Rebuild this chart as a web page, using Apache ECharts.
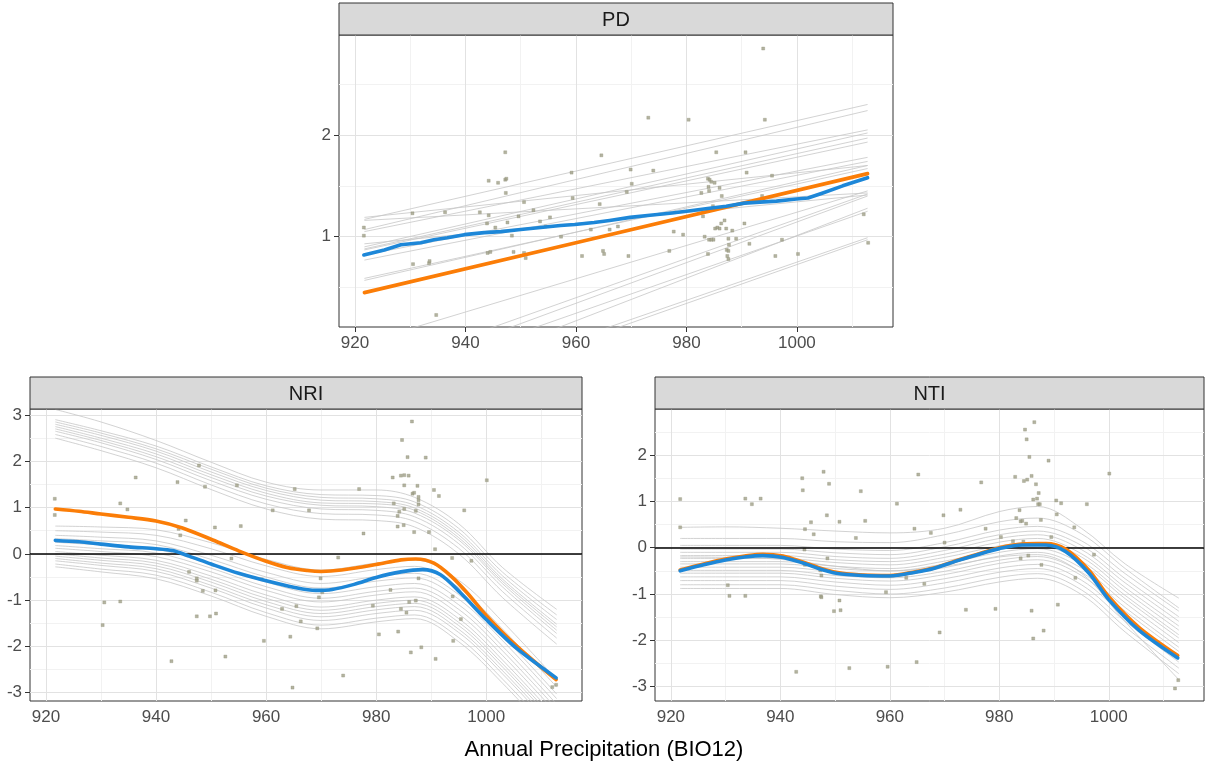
<!DOCTYPE html>
<html>
<head>
<meta charset="utf-8">
<script src="https://cdn.jsdelivr.net/npm/echarts/dist/echarts.min.js"></script>
<style>html,body{margin:0;padding:0;background:#fff}#chart{width:1207px;height:771px}</style>
</head>
<body>
<div id="chart"></div>
<script>
// ---------------- DATA ----------------
const panelNames = ['PD', 'NRI', 'NTI'];
const xTitle = 'Annual Precipitation (BIO12)';
const xMajor = [920, 940, 960, 980, 1000];
const xMinor = [930, 950, 970, 990, 1010];
const pdYMajor = [1, 2];
const pdYMinor = [0.5, 1.5, 2.5];
const nriYMajor = [-3, -2, -1, 0, 1, 2, 3];
const nriYMinor = [-2.5, -1.5, -0.5, 0.5, 1.5, 2.5];
const ntiYMajor = [-3, -2, -1, 0, 1, 2];
const ntiYMinor = [-2.5, -1.5, -0.5, 0.5, 1.5, 2.5];

// PD: observed points
const pdPoints = [[921.6,1.09],[921.6,1.01],[930.4,1.23],[930.5,0.73],[933.4,0.74],[933.5,0.76],[934.7,0.23],[936.3,1.24],[942.6,1.24],[944.2,1.55],[944.2,1.21],[943.9,1.13],[945.4,1.09],[945.9,1.53],[944.0,0.84],[944.5,0.85],[947.2,1.83],[947.2,1.56],[947.4,1.57],[947.3,1.43],[947.6,1.14],[948.4,1.01],[948.7,0.85],[949.6,1.20],[950.6,1.34],[950.6,0.84],[950.9,0.79],[952.3,1.26],[953.5,1.15],[954.5,1.10],[955.3,1.19],[957.3,1.00],[959.2,1.63],[959.4,1.38],[961.1,0.81],[962.7,1.07],[964.3,1.32],[964.6,1.80],[964.9,0.86],[965.1,0.83],[966.1,1.07],[967.6,1.10],[969.5,0.81],[969.2,1.44],[969.9,1.66],[970.1,1.52],[973.1,2.17],[974.0,1.65],[976.9,0.86],[977.7,1.05],[979.4,1.02],[980.4,2.15],[982.7,1.43],[983.0,1.20],[983.3,1.00],[983.9,0.83],[984.1,0.97],[984.5,0.97],[984.9,0.97],[983.9,1.57],[984.2,1.56],[984.5,1.54],[984.0,1.49],[984.1,1.45],[984.8,1.30],[985.0,1.27],[985.1,1.53],[985.4,1.83],[986.0,1.48],[985.2,1.08],[985.6,1.09],[986.0,1.08],[986.3,1.13],[986.4,1.40],[986.9,1.16],[987.2,1.08],[987.6,0.98],[987.7,0.92],[987.3,0.87],[987.6,0.86],[987.4,0.81],[987.6,0.78],[988.3,1.06],[989.0,0.98],[990.5,1.13],[990.7,1.83],[990.9,1.63],[991.4,0.93],[993.7,1.40],[993.9,2.85],[994.2,2.15],[995.5,1.60],[996.1,0.81],[997.3,0.97],[1000.2,0.83],[1012.1,1.22],[1012.9,0.94]];
// PD: straight group lines, value at x = 921.7 and at x = 1012.8
const pdLineX = [921.7, 1012.8];
const pdLineStart = [1.17, 1.07, 1.19, 1.16, 1.05, 0.90, 0.88, 0.87, 0.82, 0.77, 0.59, 0.57, -0.04, -0.34, -0.42, -0.63, -0.48, -0.72, -0.77, 0.93];
const pdLineEnd   = [2.30, 2.24, 1.70, 1.43, 2.05, 2.02, 1.97, 1.93, 1.78, 1.74, 1.67, 1.70, 1.45, 1.42, 1.40, 1.28, 1.25, 0.99, 0.97, 1.41];
const pdOrange = [[921.7,0.45],[960,0.94],[1012.8,1.62]];
const pdBlue = [[921.6,0.82],[925.3,0.87],[928.3,0.92],[931.9,0.94],[934.3,0.97],[936.7,0.99],[939.8,1.02],[943.4,1.04],[946.4,1.05],[950.0,1.07],[953.6,1.09],[957.2,1.11],[959.8,1.12],[963.3,1.14],[966.1,1.16],[969.8,1.19],[973.4,1.21],[977.0,1.23],[980.0,1.25],[984.2,1.28],[987.2,1.30],[990.5,1.33],[993.3,1.34],[996.3,1.35],[999.9,1.37],[1002.0,1.38],[1004.7,1.43],[1008.3,1.50],[1012.8,1.58]];

// x positions shared by the curved group lines of NRI and NTI
const curveX = [921.7, 930, 940, 950, 960, 970, 980, 987, 995, 1003, 1012.8];

// NRI
const nriPoints = [[921.6,1.19],[921.6,0.84],[930.6,-1.05],[930.3,-1.54],[933.5,1.09],[933.5,-1.03],[934.8,0.96],[936.3,1.65],[942.8,-2.32],[943.9,1.55],[944.1,0.54],[944.4,0.40],[945.4,0.72],[946.0,-0.39],[947.4,-0.53],[947.4,-0.58],[947.8,1.91],[947.4,-1.35],[948.5,-0.80],[948.9,1.45],[949.8,-1.35],[950.7,0.57],[950.8,-0.79],[950.9,-1.29],[952.6,-2.22],[953.7,-0.10],[954.7,1.48],[955.4,0.60],[959.2,-0.55],[959.6,-1.88],[961.2,0.94],[962.9,-1.19],[964.4,-1.79],[965.2,1.40],[964.8,-2.89],[965.5,-1.13],[966.3,-1.46],[967.8,0.94],[969.3,-1.61],[969.6,-0.94],[969.9,-0.53],[970.2,-0.83],[973.1,-0.08],[974.0,-2.63],[976.9,1.40],[977.7,0.44],[979.4,-1.12],[980.5,-1.74],[982.6,-0.78],[983.0,1.65],[983.2,1.09],[983.9,0.82],[983.9,0.59],[984.0,-1.68],[984.2,0.91],[984.5,1.69],[985.1,1.70],[985.9,1.69],[984.7,2.46],[985.1,1.48],[985.0,0.62],[984.5,-1.19],[985.1,0.97],[985.5,-1.27],[985.7,2.09],[986.0,-1.04],[986.3,-2.13],[986.5,2.86],[986.9,0.47],[986.6,1.30],[986.9,1.32],[987.2,0.93],[987.2,-1.01],[987.5,1.47],[987.7,1.23],[987.7,1.16],[987.7,1.07],[987.7,-0.53],[988.2,-2.02],[989.0,2.08],[989.6,0.47],[990.5,1.38],[990.7,0.10],[990.8,-2.27],[991.4,1.25],[993.8,-0.09],[993.9,-0.92],[994.0,-1.88],[995.4,-1.41],[996.0,0.94],[997.3,-0.15],[1000.1,1.59],[1012.0,-2.88],[1012.7,-2.83]];
const nriLines = [
  [3.12, 2.85, 2.45, 1.98, 1.55, 1.38, 1.38, 1.22, 0.65, -0.30, -1.20],
  [2.90, 2.66, 2.33, 1.88, 1.47, 1.28, 1.26, 1.12, 0.55, -0.40, -1.32],
  [2.85, 2.61, 2.27, 1.83, 1.42, 1.22, 1.19, 1.05, 0.47, -0.48, -1.42],
  [2.80, 2.56, 2.22, 1.77, 1.37, 1.16, 1.13, 0.99, 0.41, -0.55, -1.52],
  [2.75, 2.50, 2.16, 1.71, 1.31, 1.10, 1.08, 0.94, 0.35, -0.60, -1.58],
  [2.70, 2.45, 2.10, 1.65, 1.25, 1.05, 1.02, 0.88, 0.30, -0.65, -1.65],
  [2.65, 2.40, 2.04, 1.58, 1.18, 0.97, 0.94, 0.80, 0.22, -0.72, -1.72],
  [2.58, 2.32, 1.96, 1.49, 1.08, 0.87, 0.84, 0.70, 0.12, -0.82, -1.82],
  [2.50, 2.23, 1.86, 1.39, 0.97, 0.75, 0.72, 0.58, 0.00, -0.95, -1.95],
  [0.60, 0.58, 0.52, 0.24, -0.12, -0.35, -0.20, -0.13, -0.57, -1.47, -2.72],
  [0.50, 0.47, 0.40, 0.11, -0.26, -0.49, -0.34, -0.27, -0.73, -1.63, -2.88],
  [0.40, 0.36, 0.28, -0.03, -0.40, -0.64, -0.49, -0.42, -0.88, -1.78, -3.03],
  [0.33, 0.28, 0.20, -0.12, -0.50, -0.74, -0.59, -0.52, -0.98, -1.88, -3.13],
  [0.25, 0.19, 0.10, -0.22, -0.61, -0.86, -0.71, -0.64, -1.10, -2.00, -3.25],
  [0.18, 0.11, 0.02, -0.31, -0.71, -0.96, -0.81, -0.74, -1.20, -2.10, -3.35],
  [0.12, 0.05, -0.06, -0.39, -0.79, -1.04, -0.89, -0.82, -1.30, -2.20, -3.45],
  [0.05, -0.03, -0.14, -0.48, -0.89, -1.15, -1.00, -0.93, -1.40, -2.30, -3.55],
  [0.00, -0.09, -0.20, -0.55, -0.96, -1.22, -1.07, -1.00, -1.48, -2.38, -3.63],
  [-0.05, -0.14, -0.26, -0.61, -1.03, -1.29, -1.14, -1.07, -1.55, -2.45, -3.70],
  [-0.10, -0.20, -0.32, -0.68, -1.10, -1.36, -1.21, -1.14, -1.63, -2.53, -3.78],
  [-0.15, -0.25, -0.38, -0.74, -1.17, -1.44, -1.29, -1.22, -1.70, -2.60, -3.85],
  [-0.22, -0.33, -0.46, -0.83, -1.27, -1.54, -1.39, -1.32, -1.81, -2.71, -3.96],
  [-0.28, -0.39, -0.54, -0.91, -1.35, -1.62, -1.47, -1.40, -1.90, -2.80, -4.05]
];
const nriOrange = [[921.7,0.97],[926,0.92],[930,0.86],[935,0.79],[940,0.71],[944.8,0.56],[950.3,0.30],[955.1,0.06],[960,-0.16],[964,-0.30],[967.5,-0.36],[970,-0.38],[973.7,-0.35],[980,-0.23],[984.5,-0.13],[987.2,-0.11],[990.5,-0.20],[993.6,-0.48],[996.6,-0.85],[1000,-1.33],[1005.6,-2.00],[1012.7,-2.72]];
const nriBlue = [[921.7,0.29],[926,0.26],[930,0.21],[935,0.15],[940,0.11],[943,0.07],[946,-0.05],[950,-0.22],[955,-0.42],[960,-0.58],[965,-0.72],[969,-0.79],[972,-0.77],[976,-0.66],[980,-0.51],[984.5,-0.39],[988.4,-0.34],[991.7,-0.45],[995.4,-0.85],[1000,-1.42],[1005.6,-2.05],[1012.7,-2.68]];

// NTI
const ntiPoints = [[921.7,1.05],[921.7,0.44],[930.4,-0.81],[930.7,-1.04],[933.6,1.06],[933.6,-1.04],[934.8,0.94],[936.4,1.06],[942.9,-2.68],[944.0,1.50],[944.1,1.24],[944.5,0.40],[944.4,-0.04],[944.5,-0.37],[945.6,0.55],[946.1,0.29],[947.3,-0.49],[947.5,-0.60],[947.4,-1.05],[947.5,-1.07],[947.9,1.64],[948.5,0.70],[948.6,-0.23],[948.9,1.38],[949.8,-1.37],[950.8,0.56],[950.8,-1.14],[951.0,-1.35],[952.6,-2.60],[953.8,0.21],[954.7,1.22],[955.5,0.58],[959.3,-0.96],[959.6,-2.57],[961.3,0.95],[963.0,-0.65],[964.5,0.41],[964.9,-2.47],[965.2,1.58],[966.3,-0.78],[967.5,0.32],[969.8,0.70],[970.0,0.11],[969.1,-1.83],[972.9,0.82],[973.9,-1.34],[976.7,1.41],[977.5,0.41],[979.3,-1.32],[980.3,0.23],[982.5,0.14],[982.9,1.53],[983.1,0.64],[983.7,0.81],[983.9,0.57],[984.2,0.58],[984.5,1.44],[985.1,1.47],[984.4,0.13],[983.9,-0.23],[984.7,2.55],[985.0,2.34],[984.9,0.52],[985.3,-0.17],[985.5,1.96],[985.9,1.55],[985.9,-1.36],[986.2,-1.96],[986.4,2.71],[986.7,1.37],[986.2,1.04],[986.9,1.06],[987.2,1.18],[987.1,0.94],[987.4,0.94],[987.6,0.60],[987.7,-0.37],[988.1,-1.79],[989.0,1.88],[989.5,0.23],[990.4,1.02],[990.5,0.72],[990.7,-1.23],[991.3,0.96],[993.7,0.44],[993.9,-0.65],[996.0,0.94],[997.3,-0.15],[1000.1,1.60],[1012.1,-3.04],[1012.7,-2.86]];
const ntiLines = [
  [0.44, 0.45, 0.42, 0.36, 0.32, 0.42, 0.78, 0.89, 0.42, -0.35, -1.09],
  [0.20, 0.20, 0.20, 0.13, 0.11, 0.28, 0.56, 0.64, 0.30, -0.45, -1.30],
  [0.05, 0.05, 0.05, -0.03, -0.06, 0.11, 0.38, 0.46, 0.15, -0.56, -1.37],
  [-0.03, -0.03, -0.03, -0.11, -0.15, 0.02, 0.28, 0.36, 0.05, -0.67, -1.49],
  [-0.10, -0.10, -0.10, -0.19, -0.23, -0.06, 0.20, 0.28, -0.04, -0.76, -1.59],
  [-0.17, -0.17, -0.17, -0.26, -0.30, -0.14, 0.12, 0.20, -0.13, -0.86, -1.69],
  [-0.23, -0.23, -0.23, -0.32, -0.37, -0.21, 0.04, 0.12, -0.20, -0.94, -1.78],
  [-0.30, -0.30, -0.30, -0.40, -0.45, -0.29, -0.04, 0.04, -0.29, -1.03, -1.88],
  [-0.35, -0.35, -0.35, -0.45, -0.50, -0.35, -0.10, -0.02, -0.35, -1.10, -1.95],
  [-0.42, -0.42, -0.42, -0.52, -0.58, -0.43, -0.18, -0.10, -0.44, -1.19, -2.05],
  [-0.49, -0.49, -0.49, -0.60, -0.65, -0.51, -0.27, -0.19, -0.53, -1.29, -2.15],
  [-0.55, -0.55, -0.55, -0.66, -0.72, -0.58, -0.34, -0.26, -0.60, -1.37, -2.24],
  [-0.63, -0.63, -0.63, -0.74, -0.81, -0.67, -0.44, -0.36, -0.70, -1.48, -2.36],
  [-0.71, -0.71, -0.71, -0.83, -0.90, -0.76, -0.53, -0.45, -0.80, -1.59, -2.47],
  [-0.80, -0.80, -0.80, -0.92, -1.00, -0.87, -0.64, -0.56, -0.91, -1.71, -2.60],
  [-0.88, -0.88, -0.88, -1.01, -1.08, -0.96, -0.74, -0.66, -1.01, -1.82, -2.72],
  [-0.20, -0.21, -0.25, -0.40, -0.50, -0.40, -0.20, -0.15, -0.55, -1.60, -2.85]
];
const ntiOrange = [[921.7,-0.48],[926,-0.35],[930.2,-0.24],[933.5,-0.18],[936.8,-0.14],[940.5,-0.18],[944.1,-0.31],[947,-0.43],[950.2,-0.53],[955,-0.59],[960,-0.60],[964.7,-0.52],[968,-0.44],[972.1,-0.28],[976,-0.14],[980,0.00],[984.2,0.08],[988.5,0.09],[992.1,-0.03],[996.4,-0.49],[1000,-1.06],[1005.5,-1.72],[1012.6,-2.33]];
const ntiBlue = [[921.7,-0.50],[926,-0.37],[930.2,-0.26],[933.5,-0.20],[936.8,-0.17],[940.5,-0.21],[944.1,-0.33],[947,-0.45],[950.2,-0.55],[955,-0.60],[960,-0.61],[964.7,-0.53],[968,-0.45],[972.1,-0.29],[976,-0.15],[980,-0.02],[984.2,0.06],[988.5,0.06],[992.1,-0.08],[996.4,-0.55],[1000,-1.12],[1005.5,-1.78],[1012.6,-2.38]];

// ---------------- LAYOUT / STYLE ----------------
const FONT = '"Liberation Sans", Arial, Helvetica, sans-serif';
const X_MIN = 917.1, X_MAX = 1017.4;
const layout = [
  {left: 339, top: 35, width: 554, height: 292, ymin: 0.112, ymax: 2.983, stripH: 32, yMajor: pdYMajor, yMinor: pdYMinor},
  {left: 30, top: 409, width: 552, height: 292, ymin: -3.18, ymax: 3.13, stripH: 32, yMajor: nriYMajor, yMinor: nriYMinor},
  {left: 655, top: 409, width: 549, height: 292, ymin: -3.31, ymax: 2.995, stripH: 32, yMajor: ntiYMajor, yMinor: ntiYMinor}
];
const COL_GRAY = '#c6c6c6', COL_PT = '#a0a088', COL_OR = '#fb7d07', COL_BL = '#1d87d8';
const plain = v => String(v);

const grids = [], xAxes = [], yAxes = [], series = [], graphics = [];

function toXY(xs, ys) { return xs.map((x, i) => [x, ys[i]]); }

layout.forEach((L, i) => {
  grids.push({left: L.left, top: L.top, width: L.width, height: L.height, show: true,
    borderColor: '#333333', borderWidth: 1, backgroundColor: 'transparent', containLabel: false});
  xAxes.push({type: 'value', gridIndex: i, min: X_MIN, max: X_MAX,
    axisLine: {show: false}, splitLine: {show: false},
    axisTick: {show: true, customValues: xMajor, length: 5, lineStyle: {color: '#333333', width: 1}},
    axisLabel: {customValues: xMajor, formatter: plain, color: '#4d4d4d', fontSize: 17, fontFamily: FONT, margin: 8}});
  yAxes.push({type: 'value', gridIndex: i, min: L.ymin, max: L.ymax,
    axisLine: {show: false}, splitLine: {show: false},
    axisTick: {show: true, customValues: L.yMajor, length: 5, lineStyle: {color: '#333333', width: 1}},
    axisLabel: {customValues: L.yMajor, formatter: plain, color: '#4d4d4d', fontSize: 17, fontFamily: FONT, margin: 8}});

  // panel grid lines
  const gl = [];
  xMinor.forEach(v => gl.push({xAxis: v, lineStyle: {color: '#f2f2f2', width: 1, type: 'solid'}}));
  L.yMinor.forEach(v => gl.push({yAxis: v, lineStyle: {color: '#f2f2f2', width: 1, type: 'solid'}}));
  xMajor.forEach(v => gl.push({xAxis: v, lineStyle: {color: '#e2e2e2', width: 1, type: 'solid'}}));
  L.yMajor.forEach(v => gl.push({yAxis: v, lineStyle: {color: '#e2e2e2', width: 1, type: 'solid'}}));
  series.push({type: 'line', xAxisIndex: i, yAxisIndex: i, data: [], silent: true, z: 1,
    markLine: {silent: true, z: 1, symbol: ['none', 'none'], label: {show: false}, animation: false, data: gl}});

  // strip
  graphics.push({type: 'rect', shape: {x: L.left, y: L.top - L.stripH, width: L.width, height: L.stripH},
    style: {fill: '#d9d9d9', stroke: '#333333', lineWidth: 1}, z: 10});
  graphics.push({type: 'text', x: L.left + L.width / 2, y: L.top - L.stripH / 2 + 1,
    style: {text: panelNames[i], font: '20px ' + FONT, fill: '#1a1a1a', align: 'center', verticalAlign: 'middle'}, z: 11});
});

const lineBase = {type: 'line', showSymbol: false, symbol: 'none', silent: true, animation: false};

// PD
pdLineStart.forEach((s, k) => series.push(Object.assign({}, lineBase, {xAxisIndex: 0, yAxisIndex: 0, z: 2,
  data: toXY(pdLineX, [s, pdLineEnd[k]]), lineStyle: {color: COL_GRAY, width: 0.8}})));
// NRI
nriLines.forEach(ys => series.push(Object.assign({}, lineBase, {xAxisIndex: 1, yAxisIndex: 1, z: 2, smooth: 0.35,
  data: toXY(curveX, ys), lineStyle: {color: COL_GRAY, width: 0.8}})));
// NTI
ntiLines.forEach(ys => series.push(Object.assign({}, lineBase, {xAxisIndex: 2, yAxisIndex: 2, z: 2, smooth: 0.35,
  data: toXY(curveX, ys), lineStyle: {color: COL_GRAY, width: 0.8}})));

// points
[pdPoints, nriPoints, ntiPoints].forEach((pts, i) => series.push({type: 'scatter', xAxisIndex: i, yAxisIndex: i, z: 3,
  data: pts, symbol: 'rect', symbolSize: 3, silent: true, animation: false,
  itemStyle: {color: COL_PT, borderColor: '#8a8a72', borderWidth: 0.4}}));

// zero lines
[1, 2].forEach(i => series.push({type: 'line', xAxisIndex: i, yAxisIndex: i, data: [], silent: true, z: 4,
  markLine: {silent: true, z: 4, symbol: ['none', 'none'], label: {show: false}, animation: false,
    data: [{yAxis: 0, lineStyle: {color: '#000000', width: 1.6, type: 'solid'}}]}}));

// fitted lines
const fits = [[pdOrange, pdBlue, false], [nriOrange, nriBlue, 0.3], [ntiOrange, ntiBlue, 0.3]];
fits.forEach((f, i) => {
  series.push(Object.assign({}, lineBase, {xAxisIndex: i, yAxisIndex: i, z: 5, smooth: f[2],
    data: f[0], lineStyle: {color: COL_OR, width: 3.6, cap: 'round', join: 'round'}}));
  series.push(Object.assign({}, lineBase, {xAxisIndex: i, yAxisIndex: i, z: 6, smooth: f[2],
    data: f[1], lineStyle: {color: COL_BL, width: 3.6, cap: 'round', join: 'round'}}));
});

graphics.push({type: 'text', x: 604, y: 750,
  style: {text: xTitle, font: '22px ' + FONT, fill: '#000000', align: 'center', verticalAlign: 'middle'}, z: 11});

const chart = echarts.init(document.getElementById('chart'), null, {renderer: 'canvas'});
chart.setOption({
  animation: false,
  backgroundColor: '#ffffff',
  grid: grids, xAxis: xAxes, yAxis: yAxes, series: series, graphic: graphics
});
</script>
</body>
</html>
